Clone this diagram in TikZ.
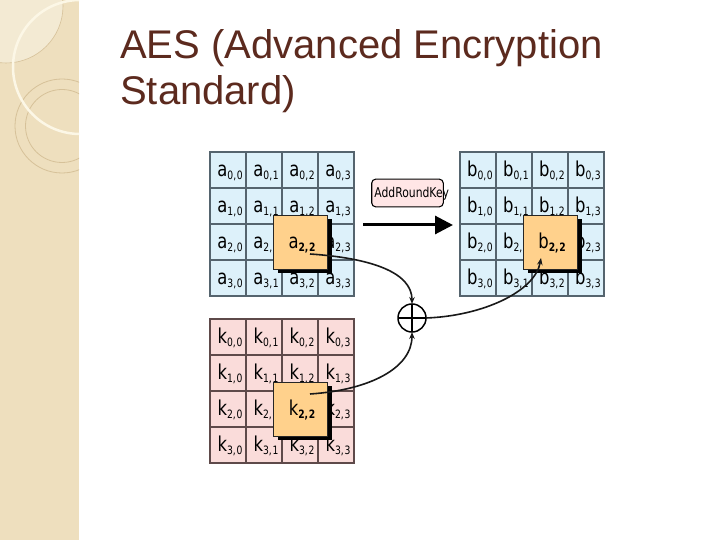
\documentclass[tikz,border=0pt]{standalone}
\usepackage{fontspec}
\setmainfont{Liberation Sans}
\newfontfamily\cellfont[FakeStretch=0.8]{DejaVu Sans}
\usetikzlibrary{arrows.meta,shadows,calc}
\definecolor{stripcol}{HTML}{EEDFBE}
\definecolor{lightcol}{HTML}{F3EAD3}
\definecolor{ringcol}{HTML}{D6C199}
\definecolor{arccol}{HTML}{FCF7E6}
\definecolor{titlecol}{RGB}{92,42,30}
\definecolor{cellblue}{HTML}{DDF1FA}
\definecolor{gridblue}{HTML}{55646E}
\definecolor{cellpink}{HTML}{FADCDA}
\definecolor{gridpink}{HTML}{5E4A4A}
\definecolor{orangecol}{HTML}{FFD18C}
\definecolor{rkfill}{HTML}{FFE6E6}
\newcommand\mcell[3]{{\fontsize{20.5}{20}\selectfont #1}\raisebox{-3pt}{\fontsize{11.5}{12}\selectfont #2,\kern0.6pt#3}}
\newcommand\mcellb[3]{{\fontsize{20.5}{20}\selectfont #1}\raisebox{-3pt}{\fontsize{11.5}{12}\selectfont\bfseries #2,\kern0.6pt#3}}
\tikzset{
  cellbox/.style={rectangle, minimum size=36pt, inner sep=0pt, outer sep=0pt, line width=1.2pt},
  celltext/.style={inner sep=0pt, outer sep=0pt, font=\cellfont},
  hbox/.style={rectangle, minimum size=54pt, inner sep=0pt, outer sep=0pt, fill=orangecol, draw=black!85, line width=0.8pt,
    drop shadow={shadow xshift=5pt, shadow yshift=-4pt, opacity=1, fill=black}},
  conn/.style={line width=1.6pt, black!90},
  ctip/.style={-{Stealth[length=7pt,width=5.5pt]}},
  xorc/.style={circle, draw, line width=1.5pt, minimum size=28pt, inner sep=0pt, outer sep=0pt},
  rkbox/.style={rectangle, rounded corners=4pt, draw=black, line width=1.1pt, fill=rkfill, minimum width=71.6pt, minimum height=27.7pt, inner sep=0pt},
  titletext/.style={anchor=base west, inner sep=0pt, text=titlecol, font=\fontsize{40}{46}\selectfont}
}
\begin{document}
\begin{tikzpicture}[x=1pt,y=-1pt]
\useasboundingbox (0,0) rectangle (720,540);
\fill[white] (0,0) rectangle (720,540);
% left decorative strip
\begin{scope}
  \clip (0,0) rectangle (79,540);
  \fill[stripcol] (0,0) rectangle (79,540);
  \fill[lightcol] (6,6) circle (57);
  \draw[ringcol, line width=0.6pt] (6,6) circle (57);
  \draw[ringcol, line width=0.8pt] (62,126) circle (47);
  \draw[ringcol, line width=0.8pt] (62,126) circle (36.5);
  \draw[arccol, line width=2.5pt] (80,67) circle (67);
\end{scope}
% title
\node[titletext] (t1) at (120,59) {AES (Advanced Encryption};
\node[titletext] (t2) at (120,105) {Standard)};
% matrices
\foreach \m/\x/\y/\fc/\dc in {a/210/152/cellblue/gridblue, b/460/152/cellblue/gridblue, k/210/319/cellpink/gridpink} {
  \foreach \r in {0,...,3} {
    \foreach \c in {0,...,3} {
      \node[cellbox, fill=\fc, draw=\dc] (\m\r\c) at ({\x+36*\c+18},{\y+36*\r+18}) {};
    }
  }
  \foreach \r in {0,...,3} {
    \foreach \c in {0,...,3} {
      \node[celltext, anchor=base] (\m t\r\c) at ({\x+36*\c+20},{\y+36*\r+24.5}) {\mcell{\m}{\r}{\c}};
    }
  }
}
% highlighted boxes
\node[hbox] (abox) at (a22.center) {};
\node[celltext, anchor=base] (alab) at (at22.base) {\mcellb{a}{2}{2}};
\node[hbox] (bbox) at (b22.center) {};
\node[celltext, anchor=base] (blab) at (bt22.base) {\mcellb{b}{2}{2}};
\node[hbox] (kbox) at (k22.center) {};
\node[celltext, anchor=base] (klab) at (kt22.base) {\mcellb{k}{2}{2}};
% AddRoundKey
\node[rkbox] (ark) at (407.5,193) {};
\node[celltext, anchor=base, font=\cellfont\fontsize{13.5}{14}\selectfont] (arkt) at (411.7,197) {AddRoundKey};
\coordinate (ar1) at (363,225);
\coordinate (ar2) at (453,225);
\draw[line width=3pt, -{Triangle[length=18pt,width=18pt]}] (ar1) -- (ar2);
% xor
\node[xorc] (xor) at (412,318) {};
\draw[line width=1.5pt] (xor.north) -- (xor.south);
\draw[line width=1.5pt] (xor.west) -- (xor.east);
% connectors
\coordinate (astart) at ($(abox.center)+(10,12)$);
\coordinate (kstart) at ($(kbox.center)+(10,-15)$);
\coordinate (bend) at ($(bbox.center)+(-9,16)$);
\draw[conn, ctip] (astart) .. controls (370,258) and (412,272) .. (xor.north);
\draw[conn, ctip] (kstart) .. controls (370,390) and (412,368) .. (xor.south);
\draw[conn, ctip] (xor.east) .. controls (482,316) and (535,292) .. (bend);
\end{tikzpicture}
\end{document}
